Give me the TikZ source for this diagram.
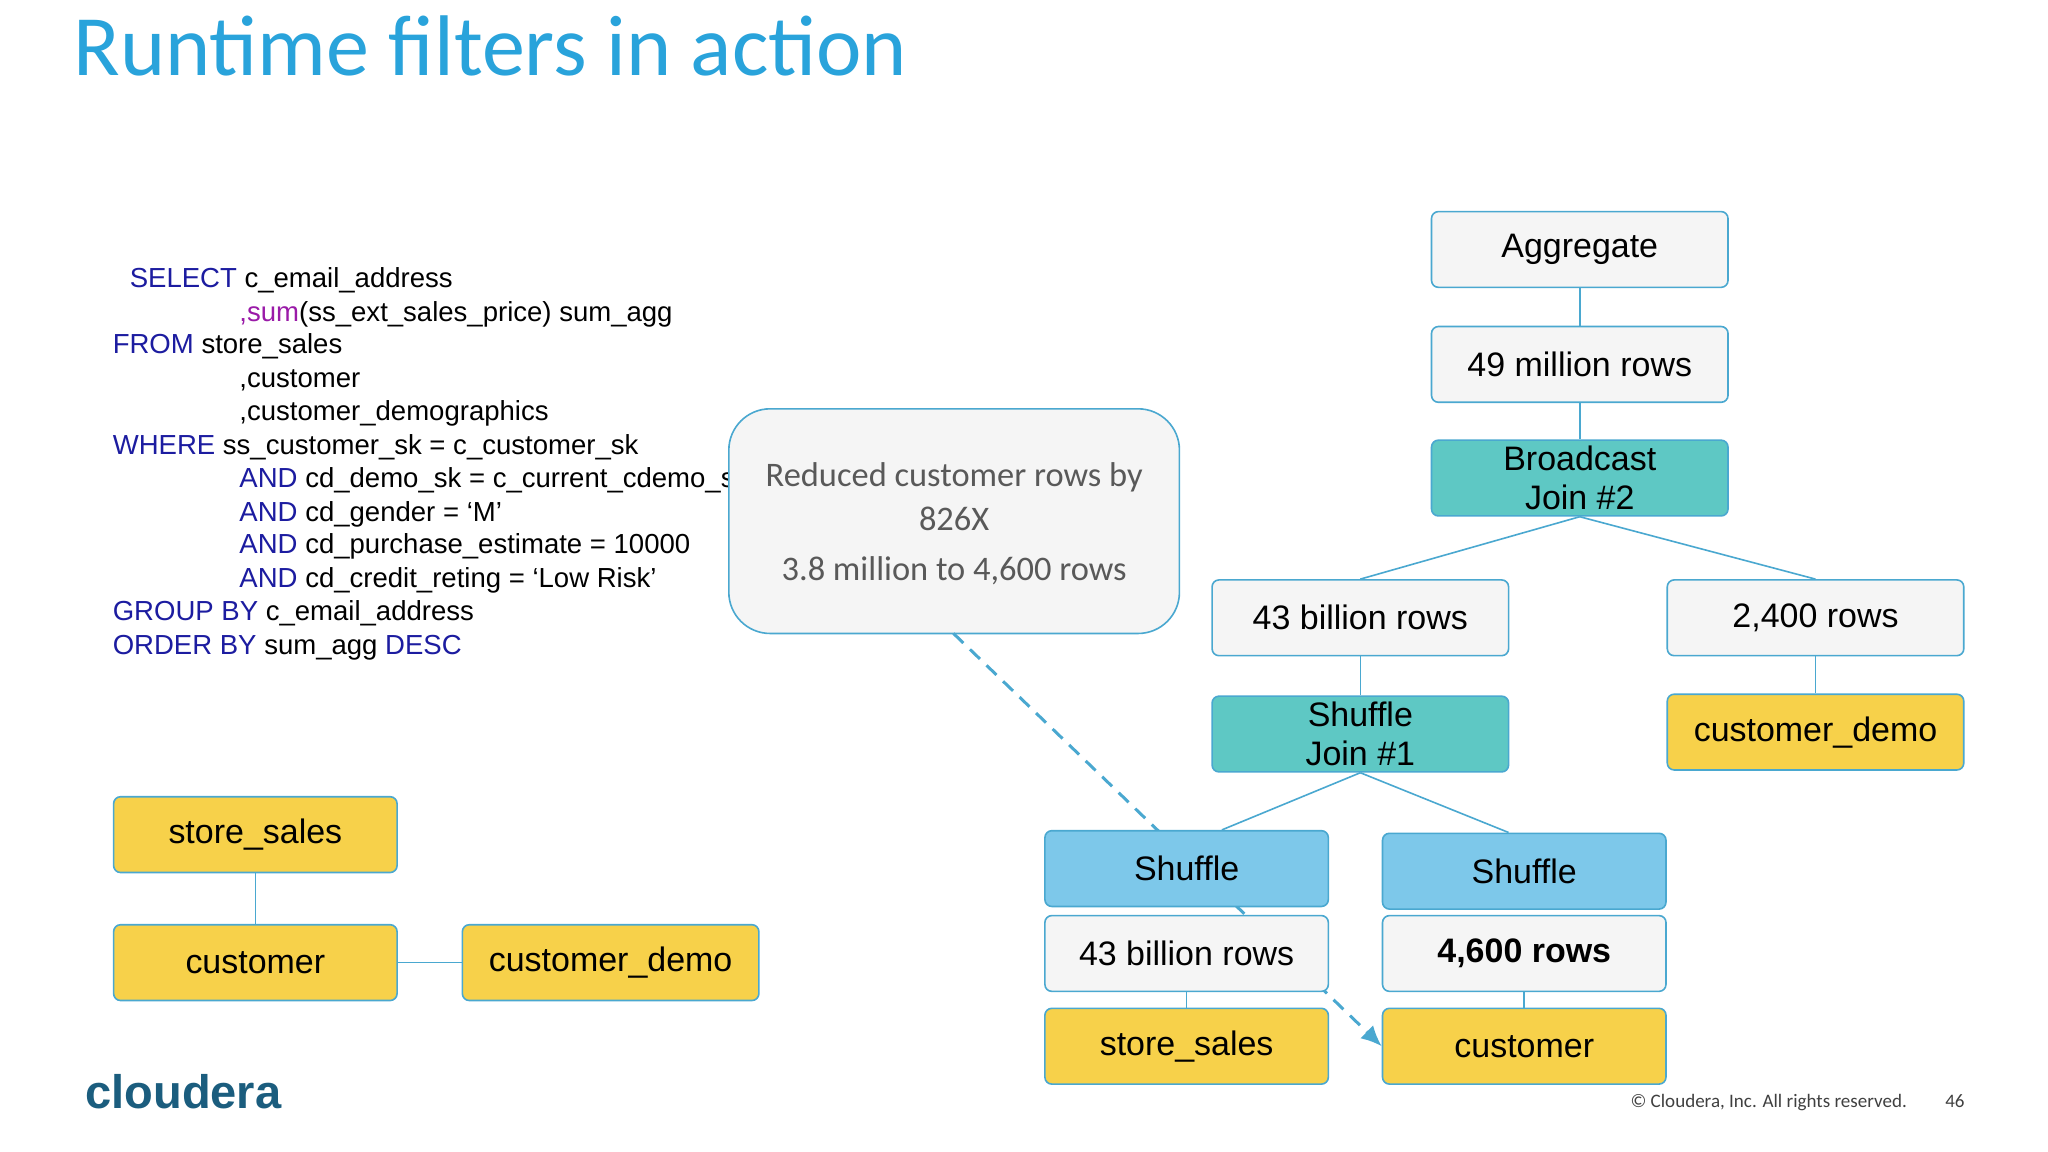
\documentclass[tikz,border=0pt]{standalone}
\usepackage{fontspec}
\setmainfont{Liberation Sans}
\newfontfamily\calfont{Carlito}
\usetikzlibrary{arrows.meta}
\definecolor{lnk}{HTML}{4AA8D0}
\definecolor{ttl}{HTML}{29A3DB}
\definecolor{logoc}{HTML}{1B5D7E}
\definecolor{yel}{HTML}{F7D14A}
\definecolor{tea}{HTML}{5EC8C4}
\definecolor{blu}{HTML}{7DC8EA}
\definecolor{kw}{HTML}{1C1CA0}
\definecolor{pur}{HTML}{9A1AA8}
\begin{document}
\begin{tikzpicture}[x=0.02cm,y=-0.02cm,
 bx/.style={draw=lnk,rounded corners=3pt,line width=0.7pt,font=\fontsize{14.8}{17}\selectfont,align=center,inner sep=0pt},
 wide/.style={bx,minimum width=227*0.02cm,minimum height=58*0.02cm},
 nar/.style={bx,minimum width=217*0.02cm,minimum height=58*0.02cm},
 fw/.style={fill=white!96!black},
 fy/.style={fill=yel},
 ft/.style={fill=tea},
 fb/.style={fill=blu},
 ln/.style={draw=lnk,line width=0.7pt},
 sq/.style={anchor=base west,font=\fontsize{12}{14}\selectfont,inner sep=0pt}]
\useasboundingbox (0,0) rectangle (1568,882);
\fill[white] (0,0) rectangle (1568,882);
\node[anchor=base west,inner sep=0pt,text=ttl,font=\calfont\fontsize{37.5}{44}\selectfont] (title) at (56,58) {Runtime filters in action};
% SQL
\node[sq] (q1) at (99,220) {\textcolor{kw}{SELECT} c\_email\_address};
\node[sq] (q2) at (183,246) {\textcolor{pur}{,sum}(ss\_ext\_sales\_price) sum\_agg};
\node[sq] (q3) at (86,271) {\textcolor{kw}{FROM} store\_sales};
\node[sq] (q4) at (183,297) {,customer};
\node[sq] (q5) at (183,322) {,customer\_demographics};
\node[sq] (q6) at (86,348) {\textcolor{kw}{WHERE} ss\_customer\_sk = c\_customer\_sk};
\node[sq] (q7) at (183,373) {\textcolor{kw}{AND} cd\_demo\_sk = c\_current\_cdemo\_sk};
\node[sq] (q8) at (183,399) {\textcolor{kw}{AND} cd\_gender = ‘M’};
\node[sq] (q9) at (183,424) {\textcolor{kw}{AND} cd\_purchase\_estimate = 10000};
\node[sq] (q10) at (183,450) {\textcolor{kw}{AND} cd\_credit\_reting = ‘Low Risk’};
\node[sq] (q11) at (86,475) {\textcolor{kw}{GROUP BY} c\_email\_address};
\node[sq] (q12) at (86,501) {\textcolor{kw}{ORDER BY} sum\_agg \textcolor{kw}{DESC}};
% callout
\node[draw=lnk,line width=0.7pt,fill=white!96!black,rounded corners=18pt,minimum width=345*0.02cm,minimum height=172*0.02cm,inner sep=0pt] (call) at (730.5,399) {};
\node[align=center,text=black!65,font=\calfont\fontsize{15}{19}\selectfont] (ct) at (730.5,401) {Reduced customer rows by\\826X\\[3pt]3.8 million to 4,600 rows};
% left tree
\node[nar,fy] (ls) at (195.5,639) {store\_sales};
\node[nar,fy] (lc) at (195.5,737) {customer};
\node[wide,fy] (ld) at (467.5,737) {customer\_demo};
\draw[ln] (ls) -- (lc);
\draw[ln] (lc) -- (ld);
% dashed arrow
\coordinate (da) at (730,485);
\node[nar,fy] (rc) at (1167,801) {customer};
\draw[lnk,line width=1.3pt,dash pattern=on 6pt off 4pt,-{Latex[length=9pt,width=8pt]}] (da) -- (rc.west);
% right tree
\node[wide,fw] (ag) at (1209.5,191) {Aggregate};
\node[wide,fw] (m49) at (1209.5,279) {49 million rows};
\node[wide,ft] (bj) at (1209.5,366) {Broadcast\\Join \#2};
\node[wide,fw] (b43) at (1041.5,473) {43 billion rows};
\node[wide,fw] (r24) at (1390,473) {2,400 rows};
\node[wide,ft] (sj) at (1041.5,562) {Shuffle\\Join \#1};
\node[wide,fy] (cd) at (1390,560.5) {customer\_demo};
\node[nar,fb] (shl) at (908.5,665) {Shuffle};
\node[nar,fb] (shr) at (1167,667) {Shuffle};
\node[nar,fw] (l43) at (908.5,730) {43 billion rows};
\node[nar,fw,font=\fontsize{14.8}{17}\selectfont\bfseries] (r46) at (1167,730) {4,600 rows};
\node[nar,fy] (lss) at (908.5,801) {store\_sales};
\draw[ln] (ag) -- (m49);
\draw[ln] (m49) -- (bj);
\draw[ln] (bj.south) -- (b43.north);
\draw[ln] (bj.south) -- (r24.north);
\draw[ln] (b43) -- (sj);
\draw[ln] (r24) -- (cd);
\draw[ln] (sj.south) -- ([xshift=27*0.02cm]shl.north);
\draw[ln] (sj.south) -- ([xshift=-12*0.02cm]shr.north);
\draw[ln] (l43) -- (lss);
\draw[ln] (r46) -- (rc);
% footer
\node[anchor=base west,inner sep=0pt,text=logoc,font=\fontsize{20.5}{24}\selectfont\bfseries] (logo) at (65,849) {cloudera};
\node[anchor=base west,inner sep=0pt,text=black!75,font=\calfont\fontsize{8.3}{10}\selectfont] (copy) at (1248,848) {© Cloudera, Inc. All rights reserved.};
\node[anchor=base west,inner sep=0pt,text=black!75,font=\calfont\fontsize{8.3}{10}\selectfont] (pg) at (1489,848) {46};
\end{tikzpicture}
\end{document}
